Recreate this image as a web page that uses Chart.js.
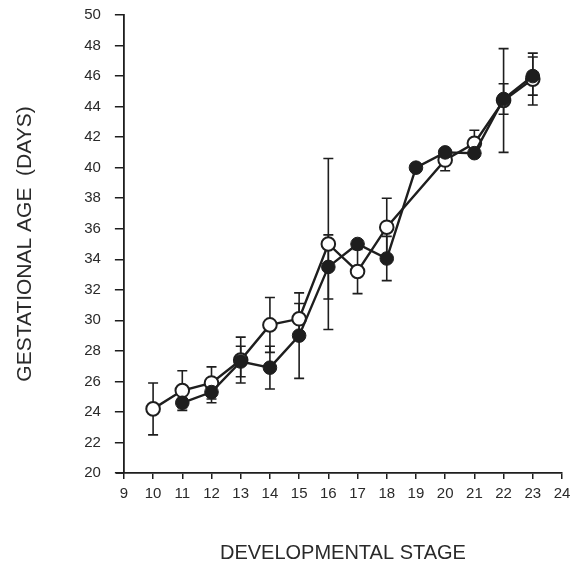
<!DOCTYPE html>
<html>
<head>
<meta charset="utf-8">
<script src="https://cdn.jsdelivr.net/npm/chart.js@4/dist/chart.umd.min.js"></script>
<style>
  html, body { margin: 0; padding: 0; background: #fff; }
  #wrap { width: 572px; height: 567px; }
</style>
</head>
<body>
<div id="wrap"><canvas id="chart"></canvas></div>
<script>
// open circles
const stagesOpen = [10, 11, 12, 13, 14, 15, 16, 17, 18, 20, 21, 22, 23];
const ageOpen = [24.2, 25.4, 25.9, 27.4, 29.7, 30.1, 35.0, 33.2, 36.1, 40.5, 41.6, 44.4, 45.8];
const errOpen = [1.7, 1.3, 1.05, 1.5, 1.8, 1.0, 5.6, 1.45, 1.9, 0.7, 0.85, 3.4, 1.7];

// filled circles
const stagesFilled = [11, 12, 13, 14, 15, 16, 17, 18, 19, 20, 21, 22, 23];
const ageFilled = [24.6, 25.3, 27.3, 26.9, 29.0, 33.5, 35.0, 34.05, 40.0, 41.0, 40.95, 44.5, 46.0];
const errFilled = [0.3, 0.7, 1.0, 1.4, 2.8, 2.1, 0, 1.45, 0, 0.2, 0.25, 1.0, 1.25];

const xTicks = [9, 10, 11, 12, 13, 14, 15, 16, 17, 18, 19, 20, 21, 22, 23, 24];
const yTicks = [20, 22, 24, 26, 28, 30, 32, 34, 36, 38, 40, 42, 44, 46, 48, 50];

const ink = '#1e1e1e';
const textColor = '#2a2a2a';
const fontFamily = 'Liberation Sans, Arial, sans-serif';

const toPoints = (xs, ys) => xs.map((x, i) => ({ x: x, y: ys[i] }));

const errorBars = {
  id: 'errorBars',
  beforeDatasetsDraw(chart) {
    const { ctx, scales, chartArea } = chart;
    const sets = [[stagesOpen, ageOpen, errOpen], [stagesFilled, ageFilled, errFilled]];
    ctx.save();
    ctx.strokeStyle = ink;
    ctx.lineWidth = 1.6;
    sets.forEach(([xs, ys, es]) => {
      xs.forEach((x, i) => {
        if (!es[i]) return;
        const px = scales.x.getPixelForValue(x);
        const top = scales.y.getPixelForValue(ys[i] + es[i]);
        const bot = scales.y.getPixelForValue(ys[i] - es[i]);
        ctx.beginPath();
        ctx.moveTo(px, top);
        ctx.lineTo(px, bot);
        ctx.moveTo(px - 5, top);
        ctx.lineTo(px + 5, top);
        ctx.moveTo(px - 5, bot);
        ctx.lineTo(px + 5, bot);
        ctx.stroke();
      });
    });
    // x axis runs a little past the y axis, as in the original
    ctx.lineWidth = 1.8;
    ctx.beginPath();
    ctx.moveTo(chartArea.left - 8, chartArea.bottom);
    ctx.lineTo(chartArea.left, chartArea.bottom);
    ctx.stroke();
    ctx.restore();
  }
};

new Chart(document.getElementById('chart'), {
  type: 'scatter',
  data: {
    datasets: [
      {
        label: 'open',
        data: toPoints(stagesOpen, ageOpen),
        showLine: true,
        borderColor: ink,
        borderWidth: 2.4,
        pointRadius: 6.8,
        pointBorderWidth: 2,
        pointBackgroundColor: '#fff',
        pointBorderColor: ink,
        order: 2
      },
      {
        label: 'filled',
        data: toPoints(stagesFilled, ageFilled),
        showLine: true,
        borderColor: ink,
        borderWidth: 2.4,
        pointRadius: 6.8,
        pointBorderWidth: 1,
        pointBackgroundColor: ink,
        pointBorderColor: ink,
        order: 1
      }
    ]
  },
  options: {
    responsive: true,
    maintainAspectRatio: false,
    animation: false,
    layout: { padding: { top: 15, right: 10, left: 0, bottom: 0 } },
    plugins: {
      legend: { display: false },
      tooltip: { enabled: false }
    },
    scales: {
      x: {
        type: 'linear',
        min: 9,
        max: 24,
        afterBuildTicks: (axis) => { axis.ticks = xTicks.map(v => ({ value: v })); },
        afterFit: (axis) => { axis.paddingRight = 0; },
        ticks: { color: textColor, font: { family: fontFamily, size: 15 }, padding: 6, maxRotation: 0, autoSkip: false },
        grid: { drawOnChartArea: false, drawTicks: true, tickLength: 6, color: ink, lineWidth: 1.5 },
        border: { color: ink, width: 1.8 },
        title: {
          display: true,
          text: 'DEVELOPMENTAL STAGE',
          color: textColor,
          font: { family: fontFamily, size: 20 },
          padding: { top: 32, bottom: 2 }
        }
      },
      y: {
        min: 20,
        max: 50,
        afterBuildTicks: (axis) => { axis.ticks = yTicks.map(v => ({ value: v })); },
        afterFit: (axis) => { axis.paddingTop = 0; },
        ticks: { color: textColor, font: { family: fontFamily, size: 15 }, padding: 14, autoSkip: false },
        grid: { drawOnChartArea: false, drawTicks: true, tickLength: 9, color: ink, lineWidth: 1.5 },
        border: { color: ink, width: 1.8 },
        title: {
          display: true,
          text: 'GESTATIONAL AGE  (DAYS)',
          color: textColor,
          font: { family: fontFamily, size: 21 },
          padding: { top: 13, bottom: 32 }
        }
      }
    }
  },
  plugins: [errorBars]
});
</script>
</body>
</html>
